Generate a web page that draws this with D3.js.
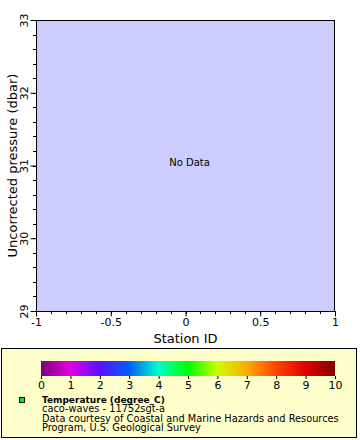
<!DOCTYPE html>
<html>
<head>
<meta charset="utf-8">
<script src="https://cdn.jsdelivr.net/npm/d3@7"></script>
<style>
  body { margin: 0; background: #fff; }
  svg { display: block; font-family: "DejaVu Sans", sans-serif; }
</style>
</head>
<body>
<svg id="chart" width="360" height="440"></svg>
<script>
// axis ranges (no data in view)
const xDomain = [-1, 1]
const yDomain = [29, 33]
const xTicks = [-1, -0.5, 0, 0.5, 1]
const yTicks = [29, 30, 31, 32, 33]
// colour bar stops, 0..10 degree_C
const cbarValues = [0, 1, 2, 3, 4, 5, 6, 7, 8, 9, 10]
const cbarColors = ['#7f007f', '#e000e0', '#5a10ff', '#0060f0', '#00ffcc', '#00ff00',
  '#ccff00', '#ffaa00', '#ff4400', '#e00000', '#800000']
const legendLines = ['caco-waves - 11752sgt-a',
  'Data courtesy of Coastal and Marine Hazards and Resources',
  'Program, U.S. Geological Survey']

const svg = d3.select('#chart')
const plot = { left: 36, top: 20, right: 335, bottom: 311 }
const fmt = d => String(d)  // plain hyphen minus, like the reference

const x = d3.scaleLinear().domain(xDomain).range([plot.left, plot.right])
const y = d3.scaleLinear().domain(yDomain).range([plot.bottom, plot.top])

svg.append('rect')
  .attr('x', plot.left).attr('y', plot.top)
  .attr('width', plot.right - plot.left).attr('height', plot.bottom - plot.top)
  .attr('fill', '#ccccff')

svg.append('text')
  .attr('x', x(0) + 4).attr('y', y(31))
  .attr('text-anchor', 'middle')
  .attr('font-size', 10)
  .text('No Data')

// minor ticks
const xMinor = d3.range(-1, 1.0001, 0.1)
svg.append('g').selectAll('line').data(xMinor).join('line')
  .attr('x1', d => Math.round(x(d)) + 0.5).attr('x2', d => Math.round(x(d)) + 0.5)
  .attr('y1', plot.bottom).attr('y2', plot.bottom + 3)
  .attr('stroke', '#000')
const yMinor = d3.range(29, 33.0001, 0.2)
svg.append('g').selectAll('line').data(yMinor).join('line')
  .attr('y1', d => Math.round(y(d)) + 0.5).attr('y2', d => Math.round(y(d)) + 0.5)
  .attr('x1', plot.left).attr('x2', plot.left - 3)
  .attr('stroke', '#000')

// x axis
const xAxis = svg.append('g')
  .attr('transform', `translate(0,${plot.bottom + 0.5})`)
  .call(d3.axisBottom(x).tickValues(xTicks).tickSize(5).tickPadding(2).tickFormat(fmt))
xAxis.select('.domain').remove()
xAxis.selectAll('text').attr('font-size', 11).attr('font-family', 'DejaVu Sans').attr('fill', '#000')

// y axis, labels turned upright along the axis
const yAxis = svg.append('g')
  .attr('transform', `translate(${plot.left - 0.5},0)`)
  .call(d3.axisLeft(y).tickValues(yTicks).tickSize(5).tickFormat(fmt))
yAxis.select('.domain').remove()
yAxis.selectAll('text')
  .attr('font-size', 11).attr('font-family', 'DejaVu Sans').attr('fill', '#000')
  .attr('text-anchor', 'middle')
  .attr('x', 0).attr('y', 0).attr('dy', null)
  .attr('transform', 'translate(-8,0) rotate(-90)')

// plot frame
svg.append('rect')
  .attr('x', plot.left + 0.5).attr('y', plot.top + 0.5)
  .attr('width', plot.right - plot.left - 1).attr('height', plot.bottom - plot.top)
  .attr('fill', 'none').attr('stroke', '#000')

// axis titles
svg.append('text')
  .attr('x', x(0)).attr('y', 343)
  .attr('text-anchor', 'middle').attr('font-size', 13)
  .text('Station ID')
svg.append('text')
  .attr('transform', `translate(17,${(plot.top + plot.bottom) / 2}) rotate(-90)`)
  .attr('text-anchor', 'middle').attr('font-size', 13)
  .text('Uncorrected pressure (dbar)')

// legend box
svg.append('rect')
  .attr('x', 1.5).attr('y', 348.5).attr('width', 355).attr('height', 89)
  .attr('fill', '#ffffcc').attr('stroke', '#000')

// colour bar
const cb = d3.scaleLinear().domain(d3.extent(cbarValues)).range([41, 335])
const grad = svg.append('defs').append('linearGradient').attr('id', 'cbar')
grad.selectAll('stop').data(cbarValues).join('stop')
  .attr('offset', d => (d / 10 * 100) + '%')
  .attr('stop-color', (d, i) => cbarColors[i])
svg.append('rect')
  .attr('x', cb(0)).attr('y', 361).attr('width', cb(10) - cb(0)).attr('height', 15)
  .attr('fill', 'url(#cbar)')
const cbAxis = svg.append('g')
  .attr('transform', 'translate(0,376)')
  .call(d3.axisBottom(cb).tickValues(cbarValues).tickSize(3).tickPadding(2).tickFormat(fmt))
cbAxis.select('.domain').remove()
cbAxis.selectAll('text').attr('font-size', 11).attr('font-family', 'DejaVu Sans').attr('fill', '#000')

// legend entry
svg.append('rect')
  .attr('x', 19.5).attr('y', 397.5).attr('width', 5).attr('height', 5)
  .attr('fill', '#00ee00').attr('stroke', '#000')
svg.append('text')
  .attr('x', 42).attr('y', 402.5)
  .attr('font-size', 9).attr('font-weight', 'bold')
  .text('Temperature (degree_C)')
svg.append('g').selectAll('text').data(legendLines).join('text')
  .attr('x', 42).attr('y', (d, i) => 412 + i * 9.7)
  .attr('font-size', 9.8)
  .text(d => d)
</script>
</body>
</html>
